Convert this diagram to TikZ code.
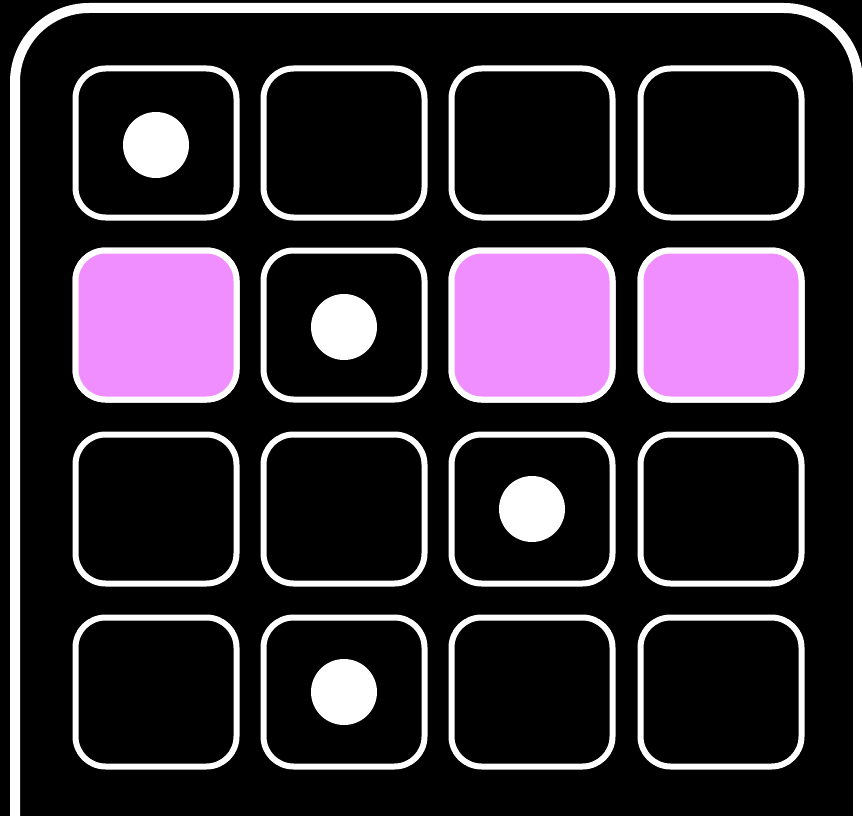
\documentclass[tikz,border=0pt]{standalone}
\definecolor{pinkfill}{RGB}{240,142,255}
\tikzset{
  cell/.style={draw=white, line width=6pt, rounded corners=30pt, minimum width=161pt, minimum height=149pt, inner sep=0pt},
  dot/.style={circle, fill=white, minimum size=66pt, inner sep=0pt},
}
\begin{document}
\begin{tikzpicture}[x=1pt,y=-1pt]
\fill[black] (0,0) rectangle (862,816);
\useasboundingbox (0,0) rectangle (862,816);
\clip (0,0) rectangle (862,816);
\draw[white, line width=10pt, rounded corners=74pt] (15,860) -- (15,8) -- (858,8) -- (858,860);
\foreach \r/\y in {1/143,2/325,3/509,4/692}{
  \foreach \c/\x in {1/156,2/344,3/532,4/721}{
    \node[cell] (c\r\c) at (\x,\y) {};
  }
}
\foreach \c in {1,3,4}{
  \node[cell, fill=pinkfill] at (c2\c) {};
}
\node[dot] (d1) at ([yshift=-2pt]c11) {};
\node[dot] (d2) at ([yshift=-2pt]c22) {};
\node[dot] (d3) at (c33) {};
\node[dot] (d4) at (c42) {};
\end{tikzpicture}
\end{document}
